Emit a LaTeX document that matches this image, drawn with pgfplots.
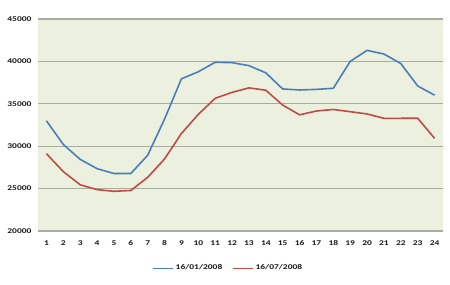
\documentclass[border=0pt]{standalone}
\usepackage{fontspec}
\setmainfont{Carlito}[FakeStretch=1.3]
\usepackage{pgfplots}
\pgfplotsset{compat=1.18}
\definecolor{bgc}{HTML}{EBF1DE}
\definecolor{gridc}{HTML}{A9AD9E}
\definecolor{blueline}{HTML}{4A7EBB}
\definecolor{redline}{HTML}{BE4B48}
\begin{document}
\begin{tikzpicture}
\useasboundingbox (0,0) rectangle (450pt,284pt);
\begin{axis}[
  at={(38pt,53pt)}, anchor=south west,
  scale only axis, width=405pt, height=212pt,
  xmin=0.5, xmax=24.5, ymin=20000, ymax=45000,
  xtick={1,...,24}, ytick={20000,25000,...,45000},
  scaled y ticks=false,
  axis line style={draw=none},
  axis background/.style={fill=bgc},
  ymajorgrids, grid style={gridc, line width=1.1pt},
  major tick length=0pt,
  /pgf/number format/assume math mode=true,
  /pgf/number format/set thousands separator={},
  yticklabel style={/pgf/number format/fixed},
  tick label style={font=\fontsize{7.3}{8}\selectfont\bfseries, text=black!90},
  yticklabel style={xshift=-3pt},
  xticklabel style={yshift=-6pt},
  legend columns=2,
  legend style={at={(0.47,-0.175)}, anchor=center, draw=none, fill=none,
    font=\fontsize{7.3}{8}\selectfont\bfseries, text=black!90,
    /tikz/every even column/.append style={column sep=8pt}},
  legend image code/.code={\draw[#1, line width=1.2pt] (0pt,0pt) -- (20pt,0pt);},
  clip=false,
]
\addplot[blueline, line width=1.6pt] coordinates {
(1,33000) (2,30200) (3,28450) (4,27350) (5,26780) (6,26780) (7,28930) (8,33200)
(9,37950) (10,38780) (11,39900) (12,39850) (13,39500) (14,38650) (15,36750) (16,36630)
(17,36700) (18,36830) (19,40000) (20,41300) (21,40870) (22,39750) (23,37100) (24,36020)
};
\addlegendentry{16/01/2008}
\addplot[redline, line width=1.6pt] coordinates {
(1,29120) (2,27000) (3,25450) (4,24880) (5,24680) (6,24780) (7,26330) (8,28500)
(9,31500) (10,33750) (11,35650) (12,36350) (13,36880) (14,36600) (15,34850) (16,33700)
(17,34150) (18,34330) (19,34070) (20,33800) (21,33290) (22,33290) (23,33300) (24,30930)
};
\addlegendentry{16/07/2008}
\end{axis}
\end{tikzpicture}
\end{document}
